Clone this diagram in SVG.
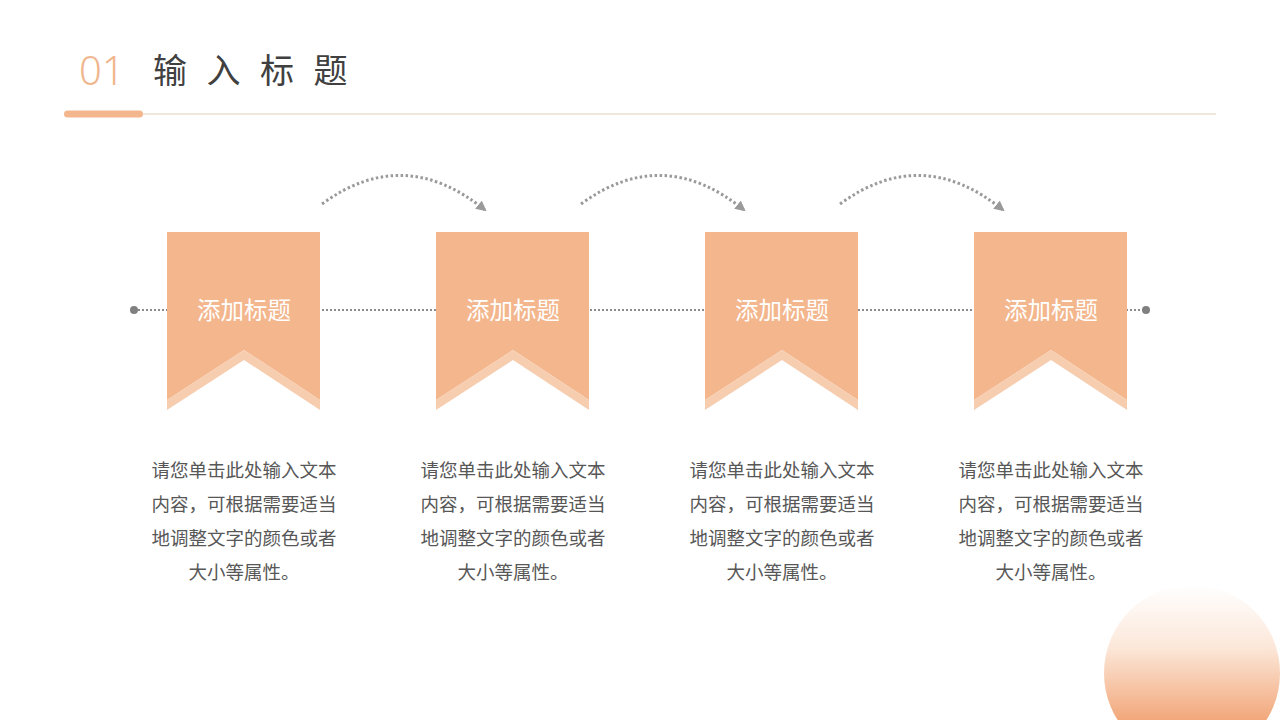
<svg xmlns="http://www.w3.org/2000/svg" width="1280" height="720" viewBox="0 0 1280 720">
<defs>
<linearGradient id="sun" x1="0" y1="0" x2="0" y2="1">
<stop offset="0" stop-color="#FFFFFF"/>
<stop offset="0.35" stop-color="#FCE8DA"/>
<stop offset="0.77" stop-color="#F2A77A"/>
<stop offset="1" stop-color="#EE9660"/>
</linearGradient>
<marker id="ah" viewBox="0 0 10 10" refX="8" refY="5" markerWidth="3.5" markerHeight="3.5" orient="auto" markerUnits="strokeWidth">
<path d="M0,0 L10,5 L0,10 Z" fill="#9A9A9A"/>
</marker>
<g id="banner">
<polygon points="0,0 153,0 153,168 77,118 0,168" fill="#F3B68D"/>
<polygon points="0,168 77,118 153,168 153,178 77,128 0,178" fill="#F7CDB0"/>
</g>
</defs>
<style>
.ttl{font-family:"Noto Sans CJK SC","Noto Sans",sans-serif;font-size:23.5px;fill:#FFFFFF;text-anchor:middle}
.body{font-family:"Noto Sans CJK SC","Noto Sans",sans-serif;font-size:18.5px;fill:#575757;text-anchor:middle}
.arc{fill:none;stroke:#9A9A9A;stroke-width:3;stroke-dasharray:2.5 2.5}
</style>
<rect width="1280" height="720" fill="#FFFFFF"/>
<g id="header">
<text x="79" y="85" font-family="'Noto Sans','Liberation Sans',sans-serif" font-size="40" font-weight="300" fill="#F0B68E">01</text>
<text x="153" y="83" font-family="'Noto Sans CJK SC',sans-serif" font-size="34" fill="#404040" letter-spacing="19.5">输入标题</text>
<line x1="140" y1="114" x2="1216" y2="114" stroke="#EBE0D2" stroke-width="1.5"/>
<rect x="64" y="110.5" width="79" height="7" rx="3.5" fill="#F3B68D"/>
</g>
<g id="connectors">
<line x1="134" y1="310" x2="1146" y2="310" stroke="#8A8A8A" stroke-width="2" stroke-dasharray="2 2"/>
<circle cx="134" cy="310" r="4" fill="#808080"/>
<circle cx="1146" cy="310" r="4" fill="#808080"/>
<path class="arc" d="M322,204 Q404,144 485,210" marker-end="url(#ah)"/>
<path class="arc" d="M581,204 Q663,144 744,210" marker-end="url(#ah)"/>
<path class="arc" d="M840,204 Q922,144 1003,210" marker-end="url(#ah)"/>
</g>
<g id="node1">
<use href="#banner" x="167" y="232"/>
<text class="ttl" x="244" y="319">添加标题</text>
<text class="body" x="244" y="477">请您单击此处输入文本</text>
<text class="body" x="244" y="511">内容，可根据需要适当</text>
<text class="body" x="244" y="545">地调整文字的颜色或者</text>
<text class="body" x="244" y="579">大小等属性。</text>
</g>
<g id="node2">
<use href="#banner" x="436" y="232"/>
<text class="ttl" x="513" y="319">添加标题</text>
<text class="body" x="513" y="477">请您单击此处输入文本</text>
<text class="body" x="513" y="511">内容，可根据需要适当</text>
<text class="body" x="513" y="545">地调整文字的颜色或者</text>
<text class="body" x="513" y="579">大小等属性。</text>
</g>
<g id="node3">
<use href="#banner" x="705" y="232"/>
<text class="ttl" x="782" y="319">添加标题</text>
<text class="body" x="782" y="477">请您单击此处输入文本</text>
<text class="body" x="782" y="511">内容，可根据需要适当</text>
<text class="body" x="782" y="545">地调整文字的颜色或者</text>
<text class="body" x="782" y="579">大小等属性。</text>
</g>
<g id="node4">
<use href="#banner" x="974" y="232"/>
<text class="ttl" x="1051" y="319">添加标题</text>
<text class="body" x="1051" y="477">请您单击此处输入文本</text>
<text class="body" x="1051" y="511">内容，可根据需要适当</text>
<text class="body" x="1051" y="545">地调整文字的颜色或者</text>
<text class="body" x="1051" y="579">大小等属性。</text>
</g>
<g id="decor">
<circle cx="1192" cy="673" r="88" fill="url(#sun)"/>
</g>
</svg>
